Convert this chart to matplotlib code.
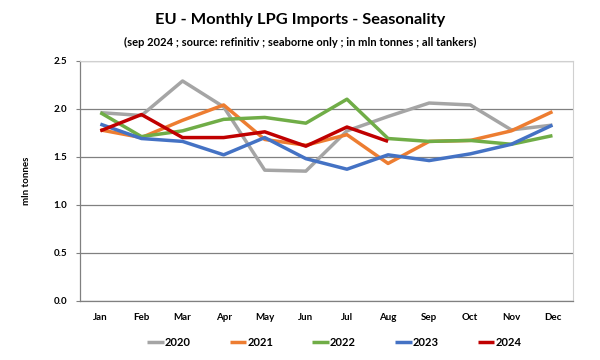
import matplotlib
matplotlib.use("Agg")
import matplotlib.pyplot as plt

plt.rcParams['font.family'] = ['Lato', 'DejaVu Sans']

months = ["Jan", "Feb", "Mar", "Apr", "May", "Jun",
          "Jul", "Aug", "Sep", "Oct", "Nov", "Dec"]

y2020 = [1.96, 1.93, 2.29, 2.02, 1.36, 1.35, 1.77, 1.92, 2.06, 2.04, 1.78, 1.83]
y2021 = [1.78, 1.70, 1.88, 2.04, 1.68, 1.62, 1.73, 1.43, 1.66, 1.67, 1.77, 1.97]
y2022 = [1.96, 1.71, 1.77, 1.89, 1.91, 1.85, 2.10, 1.69, 1.66, 1.67, 1.63, 1.72]
y2023 = [1.84, 1.69, 1.66, 1.52, 1.70, 1.48, 1.37, 1.52, 1.46, 1.53, 1.63, 1.83]
y2024 = [1.77, 1.94, 1.70, 1.70, 1.76, 1.61, 1.81, 1.66]

series = [
    ("2020", y2020, "#a5a5a5"),
    ("2021", y2021, "#ed7d31"),
    ("2022", y2022, "#70ad47"),
    ("2023", y2023, "#4472c4"),
    ("2024", y2024, "#c00000"),
]

fig = plt.figure(figsize=(6, 3.6), dpi=100)
ax = fig.add_axes([0.133, 0.165, 0.822, 0.666])

for name, vals, col in series:
    ax.plot(range(len(vals)), vals, color=col, linewidth=2.5, label=name,
            solid_capstyle='butt')

ax.set_xlim(-0.5, 11.5)
ax.set_ylim(0, 2.5)
yt = [0, 0.5, 1.0, 1.5, 2.0, 2.5]
ax.set_yticks(yt)
ax.set_yticklabels([f"{v:.1f}" for v in yt])
ax.set_xticks(range(12))
ax.set_xticklabels(months)
ax.tick_params(axis='x', length=0, labelsize=7, pad=9)
ax.tick_params(axis='y', length=3, width=0.8, color='#808080', labelsize=7, pad=6)
for lab in ax.get_xticklabels() + ax.get_yticklabels():
    lab.set_fontweight('bold')

ax.grid(axis='y', color='#808080', linewidth=0.9)
ax.set_axisbelow(True)
for side in ['top', 'right']:
    ax.spines[side].set_color('#d0d0d0')
for side in ['left', 'bottom']:
    ax.spines[side].set_color('#808080')
    ax.spines[side].set_linewidth(0.9)

ax.set_ylabel("mln tonnes", fontsize=7, fontweight='bold', labelpad=16)

fig.text(0.5, 0.945, "EU - Monthly LPG Imports - Seasonality",
         ha='center', va='center', fontsize=11.8, fontweight='bold')
fig.text(0.5, 0.883, "(sep 2024 ; source: refinitiv ; seaborne only ; in mln tonnes ; all tankers)",
         ha='center', va='center', fontsize=8, fontweight='bold')

leg = fig.legend(loc='center', bbox_to_anchor=(0.557, 0.05), ncol=5, frameon=False,
                 fontsize=8, handlelength=1.5, handletextpad=0.1, columnspacing=3.5)
for t in leg.get_texts():
    t.set_fontweight('bold')

fig.savefig("out.png", dpi=100, facecolor='white')
